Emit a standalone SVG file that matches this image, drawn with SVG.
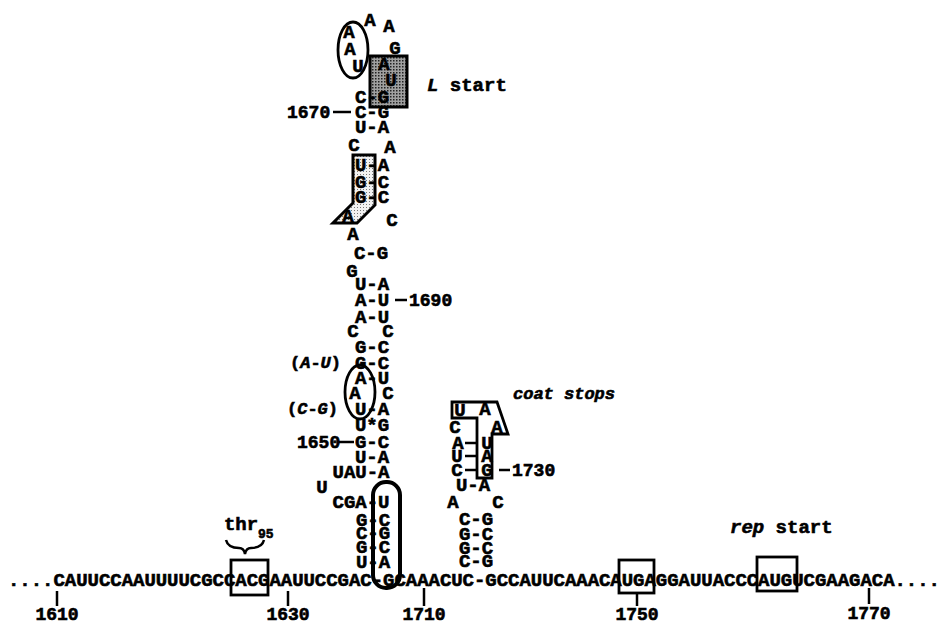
<svg xmlns="http://www.w3.org/2000/svg" width="943" height="626" viewBox="0 0 943 626">
<style>
text{font-family:"Liberation Mono","Courier New",monospace;font-weight:bold;fill:#000;stroke:#000;stroke-width:0.6}
.b{font-size:19px;text-anchor:middle}
.s{font-size:19px}
.n{font-size:18px}
.m{font-size:17px}
.it{font-style:italic}
.ln{stroke:#000;stroke-width:2.5;fill:none}
.bx{stroke:#000;stroke-width:2.8;fill:none}
</style>
<defs>
<pattern id="dk" width="3" height="3" patternUnits="userSpaceOnUse"><rect width="3" height="3" fill="#a0a0a0"/><rect width="1.5" height="1.5" fill="#222"/></pattern>
<pattern id="lt" width="3" height="3" patternUnits="userSpaceOnUse"><rect width="3" height="3" fill="#f2f2f2"/><rect width="1" height="1" fill="#777"/></pattern>
</defs>
<rect width="943" height="626" fill="#fff"/>

<g id="main-sequence">
<text class="s" x="8" y="586" textLength="932" lengthAdjust="spacing">....CAUUCCAAUUUUCGCCACGAAUUCCGAC-GCAAACUC-GCCAUUCAAACAUGAGGAUUACCCAUGUCGAAGACA....</text>
<rect class="bx" x="231" y="560" width="37" height="35"/>
<rect class="bx" x="619" y="560" width="35" height="33"/>
<rect class="bx" x="757" y="557" width="40" height="34"/>
<text class="n" x="57" y="620" text-anchor="middle">1610</text>
<text class="n" x="288" y="620" text-anchor="middle">1630</text>
<text class="n" x="424" y="620" text-anchor="middle">1710</text>
<text class="n" x="637" y="620" text-anchor="middle">1750</text>
<text class="n" x="869" y="619" text-anchor="middle">1770</text>
</g>

<g id="thr95">
<text class="s" x="241" y="530" text-anchor="middle">thr</text>
<text x="258" y="538" font-size="13">95</text>
<path class="ln" stroke-width="3.2" d="M226,540 Q228,548 239,548 Q244,548 245,554 Q246,548 251,548 Q262,548 264,540"/>
</g>

<g id="hairpin-L">
<ellipse cx="353" cy="50" rx="15" ry="28" class="bx" stroke-width="3"/>
<rect x="370" y="56" width="37" height="51" fill="url(#dk)" stroke="#000" stroke-width="3"/>
<text class="b" x="370" y="26">A</text>
<text class="b" x="389" y="32">A</text>
<text class="b" x="349" y="38">A</text>
<text class="b" x="350" y="55">A</text>
<text class="b" x="358" y="72">U</text>
<text class="b" x="395" y="54">G</text>
<text class="b" x="384" y="70">A</text>
<text class="b" x="391" y="86">U</text>
<text class="b" x="372" y="103">C-G</text>
<text class="b" x="372" y="118">C-G</text>
<text class="n" x="287" y="118">1670</text>
<text class="b" x="372" y="133">U-A</text>
<text class="b" x="354" y="151">C</text>
<text class="b" x="390" y="153">A</text>
<polygon points="353,155 375,155 375,205 357,223 333,223 353,203" fill="url(#lt)" stroke="#000" stroke-width="3"/>
<text class="b" x="372" y="171">U-A</text>
<text class="b" x="372" y="188">G-C</text>
<text class="b" x="372" y="203">G-C</text>
<text class="b" x="348" y="222">A</text>
<text class="b" x="392" y="226">C</text>
<text class="b" x="353" y="240">A</text>
<text class="b" x="371" y="259">C-G</text>
<text class="b" x="352" y="277">G</text>
<text class="b" x="372" y="290">U-A</text>
<text class="b" x="372" y="306">A-U</text>
<text class="n" x="409" y="306">1690</text>
<text class="b" x="372" y="323">A-U</text>
<text class="b" x="353" y="337">C</text>
<text class="b" x="388" y="337">C</text>
<text class="b" x="372" y="353">G-C</text>
<text class="b" x="372" y="369">G-C</text>
<text class="m" x="290" y="368">(<tspan class="it">A</tspan>-<tspan class="it">U</tspan>)</text>
<ellipse cx="360" cy="392" rx="15" ry="27" class="bx" stroke-width="3"/>
<text class="b" x="372" y="384">A-U</text>
<text class="b" x="355" y="399">A</text>
<text class="b" x="388" y="399">C</text>
<text class="b" x="372" y="415">U-A</text>
<text class="m" x="287" y="414">(<tspan class="it">C</tspan>-<tspan class="it">G</tspan>)</text>
<text class="b" x="372" y="431">U*G</text>
<text class="b" x="372" y="448">G-C</text>
<text class="n" x="297" y="448">1650</text>
<text class="b" x="372" y="463">U-A</text>
<text class="b" x="361" y="478">UAU-A</text>
<text class="b" x="322" y="493">U</text>
<text class="b" x="361" y="508">CGA-U</text>
<text class="b" x="373" y="526">G-C</text>
<text class="b" x="373" y="539">C-G</text>
<text class="b" x="373" y="553">G-C</text>
<text class="b" x="373" y="568">U-A</text>
<rect x="373" y="482" width="27" height="106" rx="13" ry="13" fill="none" stroke="#000" stroke-width="4"/>
</g>

<g id="hairpin-coat">
<polygon points="452,402 497,402 508,434 492,434 492,478 477,478 477,418 452,418" fill="none" stroke="#000" stroke-width="2.8"/>
<text class="b" x="460" y="416">U</text>
<text class="b" x="485" y="415">A</text>
<text class="b" x="455" y="433">C</text>
<text class="b" x="497" y="433">A</text>
<text class="b" x="458" y="449">A</text>
<text class="b" x="487" y="449">U</text>
<text class="b" x="457" y="462">U</text>
<text class="b" x="487" y="462">A</text>
<text class="b" x="457" y="476">C</text>
<text class="b" x="487" y="476">G</text>
<text class="n" x="512" y="476">1730</text>
<text class="b" x="473" y="491">U-A</text>
<text class="b" x="453" y="508">A</text>
<text class="b" x="498" y="508">C</text>
<text class="b" x="476" y="525">C-G</text>
<text class="b" x="476" y="540">G-C</text>
<text class="b" x="476" y="554">G-C</text>
<text class="b" x="476" y="567">C-G</text>
</g>

<g id="labels">
<text class="s" x="427" y="91"><tspan class="it">L</tspan> start</text>
<text class="m it" x="513" y="399">coat stops</text>
<text class="s" x="730" y="533"><tspan class="it">rep</tspan> start</text>
</g>

<g id="connectors">
<line class="ln" x1="57" y1="591" x2="57" y2="606"/>
<line class="ln" x1="288" y1="591" x2="288" y2="606"/>
<line class="ln" x1="424" y1="588" x2="424" y2="606"/>
<line class="ln" x1="637" y1="592" x2="637" y2="606"/>
<line class="ln" x1="869" y1="588" x2="869" y2="604"/>
<line class="ln" x1="333" y1="112" x2="351" y2="112"/>
<line class="ln" x1="395" y1="300" x2="407" y2="300"/>
<line class="ln" x1="339" y1="442" x2="354" y2="442"/>
<line class="ln" x1="499" y1="470" x2="510" y2="470"/>
<line class="ln" stroke-width="2" x1="465" y1="443" x2="477" y2="443"/>
<line class="ln" stroke-width="2" x1="465" y1="456" x2="477" y2="456"/>
<line class="ln" stroke-width="2" x1="465" y1="470" x2="477" y2="470"/>
</g>
</svg>
